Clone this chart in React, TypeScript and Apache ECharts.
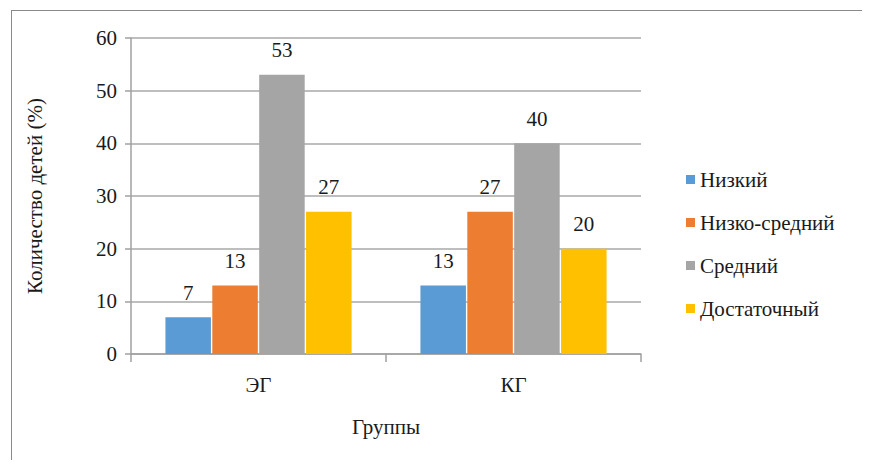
import React, { useEffect, useRef } from "react";
import * as echarts from "echarts";

const categories = ["ЭГ", "КГ"];
const seriesNames = ["Низкий", "Низко-средний", "Средний", "Достаточный"];
const lowValues = [7, 13];
const lowMidValues = [13, 27];
const midValues = [53, 40];
const enoughValues = [27, 20];
const colors = ["#5B9BD5", "#ED7D31", "#A5A5A5", "#FFC000"];

const FONT = "Liberation Serif";
const TEXT = "#1a1a1a";

export default function App() {
  const ref = useRef<HTMLDivElement>(null);
  useEffect(() => {
    if (!ref.current) return;
    const chart = echarts.init(ref.current, undefined, { renderer: "svg" });
    const data = [lowValues, lowMidValues, midValues, enoughValues];
    chart.setOption({
      animation: false,
      grid: { left: 131, right: 229, top: 38, bottom: 114 },
      legend: {
        orient: "vertical",
        left: 681,
        top: 164,
        itemWidth: 9,
        itemHeight: 9,
        itemGap: 22,
        icon: "rect",
        textStyle: { fontFamily: FONT, fontSize: 21, color: TEXT },
        data: seriesNames,
      },
      xAxis: {
        type: "category",
        data: categories,
        name: "Группы",
        nameLocation: "middle",
        nameGap: 62,
        nameTextStyle: { fontFamily: FONT, fontSize: 21, color: TEXT },
        axisLine: { lineStyle: { color: "#a0a0a0", width: 1.5 } },
        axisTick: { show: true, length: 8, lineStyle: { color: "#a0a0a0", width: 1.5 } },
        axisLabel: { fontFamily: FONT, fontSize: 21, color: TEXT, margin: 20 },
      },
      yAxis: {
        type: "value",
        min: 0,
        max: 60,
        interval: 10,
        name: "Количество детей (%)",
        nameLocation: "middle",
        nameGap: 86,
        nameRotate: 90,
        nameTextStyle: { fontFamily: FONT, fontSize: 21, color: TEXT },
        axisLine: { show: true, lineStyle: { color: "#a0a0a0", width: 1.5 } },
        axisTick: { show: true, length: 6, lineStyle: { color: "#a0a0a0", width: 1.5 } },
        axisLabel: { fontFamily: FONT, fontSize: 21, color: TEXT, margin: 14 },
        splitLine: { lineStyle: { color: "#a8a8a8", width: 1.5 } },
      },
      series: seriesNames.map((name, i) => ({
        name,
        type: "bar",
        data: data[i],
        barGap: "3%",
        barCategoryGap: "27%",
        itemStyle: { color: colors[i] },
        label: {
          show: true,
          position: "top",
          distance: 14,
          fontFamily: FONT,
          fontSize: 21,
          color: TEXT,
        },
      })),
    });
    return () => chart.dispose();
  }, []);
  return (
    <div style={{ position: "relative", width: 870, height: 468, margin: -8, overflow: "hidden" }}>
      <div ref={ref} style={{ width: 870, height: 468 }} />
      <div
        style={{
          position: "absolute",
          left: 11,
          top: 10,
          width: 900,
          height: 500,
          border: "1.5px solid #8a8a8a",
          pointerEvents: "none",
        }}
      />
    </div>
  );
}
